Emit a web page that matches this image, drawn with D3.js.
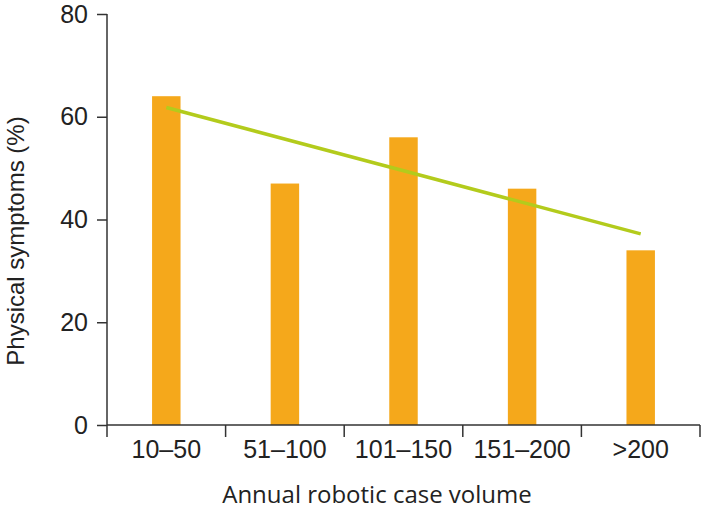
<!DOCTYPE html>
<html>
<head>
<meta charset="utf-8">
<script src="https://cdn.jsdelivr.net/npm/d3@7"></script>
<style>
  body { margin: 0; background: #fff; }
</style>
</head>
<body>
<div id="chart"></div>
<script>
// data
const categories = ["10–50", "51–100", "101–150", "151–200", ">200"];
const symptoms = [64, 47, 56, 46, 34]; // % with physical symptoms
const trendCats = ["10–50", ">200"];
const trendValues = [61.8, 37.2];
const yTicks = [0, 20, 40, 60, 80];

const width = 706;
const height = 511;
const margin = { top: 14, right: 6, bottom: 86, left: 107 };

const svg = d3.select("#chart")
  .append("svg")
  .attr("width", width)
  .attr("height", height);

const x = d3.scaleBand()
  .domain(categories)
  .range([margin.left, width - margin.right])
  .paddingInner(0.76)
  .paddingOuter(0.38);

const y = d3.scaleLinear()
  .domain([0, 80])
  .range([height - margin.bottom, margin.top]);

const axisColor = "#333";
const y0 = y(0);

// bars
svg.selectAll("rect.bar")
  .data(symptoms)
  .enter()
  .append("rect")
  .attr("class", "bar")
  .attr("x", (d, i) => x(categories[i]))
  .attr("y", d => y(d))
  .attr("width", x.bandwidth())
  .attr("height", d => y0 - y(d))
  .attr("fill", "#f5a81b");

// trend line
const line = d3.line()
  .x((d, i) => x(trendCats[i]) + x.bandwidth() / 2)
  .y(d => y(d));

svg.append("path")
  .datum(trendValues)
  .attr("d", line)
  .attr("fill", "none")
  .attr("stroke", "#b3cb1c")
  .attr("stroke-width", 3.5);

// Y axis
const yAxis = svg.append("g")
  .attr("transform", `translate(${margin.left},0)`)
  .call(d3.axisLeft(y).tickValues(yTicks).tickSize(10).tickPadding(9));
yAxis.select(".domain").remove();
yAxis.selectAll(".tick line").attr("stroke", axisColor).attr("stroke-width", 1.5);
yAxis.selectAll(".tick text")
  .attr("fill", "#222")
  .style("font-family", "Liberation Sans, Arial, sans-serif")
  .style("font-size", "25px");

svg.append("line")
  .attr("x1", margin.left).attr("x2", margin.left)
  .attr("y1", y(80)).attr("y2", y0 + 12)
  .attr("stroke", axisColor).attr("stroke-width", 1.5);

// X axis
const xAxis = svg.append("g")
  .attr("transform", `translate(0,${y0})`)
  .call(d3.axisBottom(x).tickSize(0).tickPadding(15));
xAxis.select(".domain").remove();
xAxis.selectAll(".tick text")
  .attr("fill", "#222")
  .style("font-family", "Liberation Sans, Arial, sans-serif")
  .style("font-size", "25px");

svg.append("line")
  .attr("x1", margin.left).attr("x2", x.range()[1])
  .attr("y1", y0).attr("y2", y0)
  .attr("stroke", axisColor).attr("stroke-width", 1.5);

// boundary ticks between categories
svg.selectAll("line.xb")
  .data(d3.range(1, categories.length + 1))
  .enter()
  .append("line")
  .attr("class", "xb")
  .attr("x1", i => x.range()[0] + i * x.step())
  .attr("x2", i => x.range()[0] + i * x.step())
  .attr("y1", y0)
  .attr("y2", y0 + 12)
  .attr("stroke", axisColor)
  .attr("stroke-width", 1.5);

// axis titles
svg.append("text")
  .attr("x", 377)
  .attr("y", 503)
  .attr("text-anchor", "middle")
  .attr("fill", "#222")
  .style("font-family", "Open Sans, sans-serif")
  .style("font-size", "24px")
  .text("Annual robotic case volume");

svg.append("text")
  .attr("transform", `translate(24,241) rotate(-90)`)
  .attr("text-anchor", "middle")
  .attr("fill", "#222")
  .style("font-family", "Liberation Sans, Arial, sans-serif")
  .style("font-size", "24px")
  .text("Physical symptoms (%)");
</script>
</body>
</html>
